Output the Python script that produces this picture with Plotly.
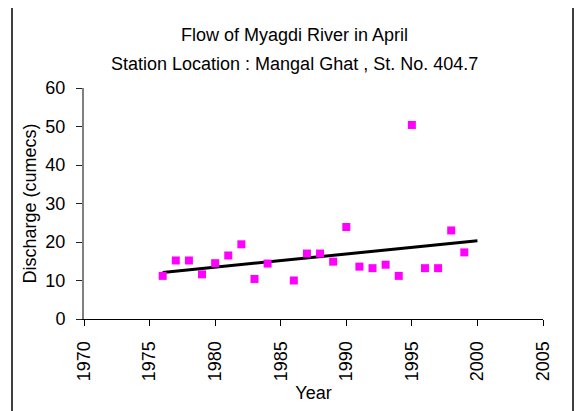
import plotly.graph_objects as go

# ---- data ----
years = [1976, 1977, 1978, 1979, 1980, 1981, 1982, 1983, 1984,
         1986, 1987, 1988, 1989, 1990, 1991, 1992, 1993, 1994,
         1995, 1996, 1997, 1998, 1999]
discharge = [11.2, 15.2, 15.2, 11.6, 14.5, 16.5, 19.4, 10.4, 14.4,
             10.0, 17.0, 17.0, 14.9, 23.9, 13.6, 13.2, 14.1, 11.2,
             50.4, 13.2, 13.2, 23.0, 17.3]
trend_years = [1976, 2000]
trend_values = [12.1, 20.3]
x_ticks = [1970, 1975, 1980, 1985, 1990, 1995, 2000, 2005]
y_ticks = [0, 10, 20, 30, 40, 50, 60]

title1 = "Flow of Myagdi River in April"
title2 = "Station Location : Mangal Ghat , St. No. 404.7"

# ---- layout geometry (page pixels; page body has an 8px offset) ----
OFF = 8
PW, PH = 583, 411
L, R, T, B = 84, 543, 88, 319
FONT = "Liberation Sans, Arial, sans-serif"
FS = 18


def px_x(p):
    return (p - L) / (R - L)


def px_y(p):
    return (B - p) / (B - T)


fig = go.Figure()
fig.add_trace(go.Scatter(
    x=trend_years, y=trend_values, mode="lines",
    line=dict(color="black", width=3), showlegend=False, hoverinfo="skip"))
fig.add_trace(go.Scatter(
    x=years, y=discharge, mode="markers",
    marker=dict(symbol="square", size=8, color="#FF00FF", line=dict(width=0)),
    showlegend=False))

fig.update_layout(
    width=PW - OFF, height=PH - OFF,
    margin=dict(l=L - OFF, r=PW - R, t=T - OFF, b=PH - B, pad=0),
    paper_bgcolor="white", plot_bgcolor="white",
    font=dict(family=FONT, size=FS, color="black"),
    showlegend=False,
    xaxis=dict(
        range=[1970, 2005], tickvals=x_ticks, ticktext=[str(v) for v in x_ticks],
        tickangle=-90, ticks="outside", ticklen=6, tickcolor="black", tickwidth=1,
        ticklabelstandoff=8,
        showline=True, linecolor="black", linewidth=1,
        showgrid=False, zeroline=False,
        title=dict(text="Year", standoff=6, font=dict(size=FS)),
        tickfont=dict(size=FS),
    ),
    yaxis=dict(
        range=[0, 60], tickvals=y_ticks, ticks="outside", ticklen=6,
        tickcolor="#222222", tickwidth=1,
        ticklabelstandoff=7,
        showline=True, linecolor="#808080", linewidth=2,
        showgrid=False, zeroline=False,
        title=dict(text="Discharge (cumecs)", standoff=4, font=dict(size=FS)),
        tickfont=dict(size=FS),
    ),
    shapes=[dict(
        type="rect", xref="paper", yref="paper",
        x0=px_x(12), x1=px_x(573), y0=px_y(430), y1=px_y(7),
        line=dict(color="black", width=1.5), fillcolor="rgba(0,0,0,0)",
        layer="above")],
    annotations=[
        dict(text=title1, xref="paper", yref="paper", x=px_x(294), y=px_y(35.5),
             showarrow=False, xanchor="center", yanchor="middle",
             font=dict(size=FS)),
        dict(text=title2, xref="paper", yref="paper", x=px_x(294), y=px_y(63.5),
             showarrow=False, xanchor="center", yanchor="middle",
             font=dict(size=FS)),
    ],
)

fig.write_html("out.html")
